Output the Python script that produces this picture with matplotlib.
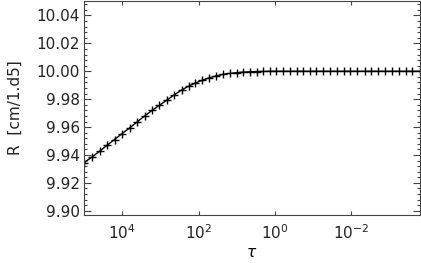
import matplotlib
matplotlib.use("Agg")
import matplotlib.pyplot as plt
import numpy as np
from matplotlib.ticker import FixedLocator, MultipleLocator, NullLocator

# optical depth grid (log10 tau) and radius
log_tau = [5.00, 4.78, 4.58, 4.39, 4.20, 4.00, 3.79, 3.60, 3.41, 3.22,
           3.03, 2.83, 2.63, 2.44, 2.26, 2.08, 1.90, 1.72, 1.54, 1.36,
           1.18, 1.00, 0.84, 0.65, 0.48, 0.31, 0.13, -0.04, -0.22, -0.39,
           -0.57, -0.74, -0.92, -1.09, -1.26, -1.44, -1.62, -1.80, -1.98, -2.15,
           -2.35, -2.52, -2.69, -2.88, -3.06, -3.25, -3.43, -3.60, -3.79]
radius = [9.9345, 9.9387, 9.9430, 9.9471, 9.9511, 9.9554, 9.9597, 9.9639, 9.9680, 9.9719,
          9.9755, 9.9793, 9.9832, 9.9866, 9.9893, 9.9917, 9.9936, 9.9953, 9.9967, 9.9978,
          9.9985, 9.9990, 9.9994, 9.9996, 9.9998, 9.9999, 10.0000, 10.0000, 10.0000, 10.0000,
          10.0000, 10.0000, 10.0000, 10.0000, 10.0000, 10.0000, 10.0000, 10.0000, 10.0000, 10.0000,
          10.0000, 10.0000, 10.0000, 10.0000, 10.0000, 10.0000, 10.0000, 10.0000, 10.0000]

xticks = [1e4, 1e2, 1e0, 1e-2]
xtick_labels = [r"$10^{4}$", r"$10^{2}$", r"$10^{0}$", r"$10^{-2}$"]

plt.rcParams["font.family"] = "DejaVu Sans"
plt.rcParams["font.size"] = 11
plt.rcParams["mathtext.fontset"] = "dejavusans"

tau = 10.0 ** np.array(log_tau)

fig = plt.figure(figsize=(4.21, 2.63), dpi=100)
ax = fig.add_axes([0.1995, 0.1825, 0.798, 0.815])

ax.plot(tau, radius, color="black", lw=1.0, marker="+", ms=6, mew=1.0)

ax.set_xscale("log")
ax.set_xlim(1e5, 10 ** -3.8)
ax.set_ylim(9.897, 10.0506)

ax.xaxis.set_major_locator(FixedLocator(xticks))
ax.set_xticks(xticks)
ax.set_xticklabels(xtick_labels)
ax.xaxis.set_minor_locator(NullLocator())
ax.yaxis.set_major_locator(MultipleLocator(0.02))
ax.yaxis.set_minor_locator(MultipleLocator(0.004))
ax.yaxis.set_major_formatter(matplotlib.ticker.FormatStrFormatter("%.2f"))

ax.tick_params(axis="both", which="both", direction="in", top=True, right=True,
               color="#444444", width=0.8, labelcolor="#222222")
ax.tick_params(axis="y", which="major", length=4.8, pad=3)
ax.tick_params(axis="y", which="minor", length=2.4)
ax.tick_params(axis="x", which="major", length=3.1, pad=6)

for sp in ax.spines.values():
    sp.set_color("#444444")
    sp.set_linewidth(0.8)

ax.set_ylabel("R  [cm/1.d5]", labelpad=10, color="#222222")
ax.set_xlabel(r"$\tau$", labelpad=2)

fig.savefig("out.png", dpi=100)
